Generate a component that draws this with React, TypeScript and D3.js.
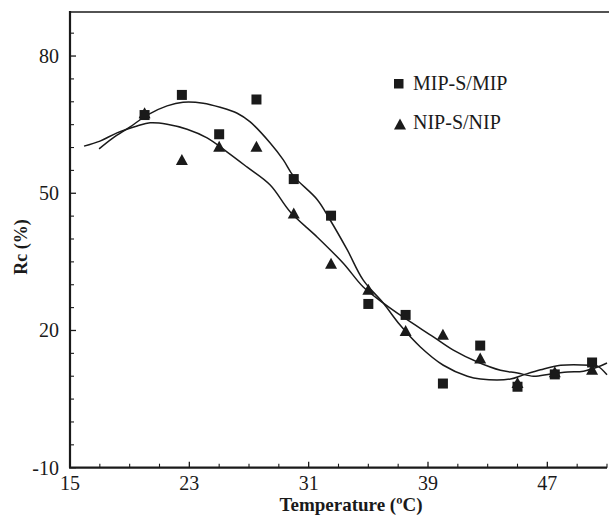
import * as d3 from "d3";

const temps = [20, 22.5, 25, 27.5, 30, 32.5, 35, 37.5, 40, 42.5, 45, 47.5, 50];
const mipValues = [67.1, 71.5, 62.9, 70.5, 53.1, 45.1, 25.8, 23.4, 8.4, 16.7, 7.7, 10.4, 13.0];
const nipValues = [67.6, 57.4, 60.3, 60.3, 45.7, 34.7, 29.0, 20.0, 19.2, 14.0, 8.6, 11.0, 11.5];

// fitted curves, traced point by point
const mipFitX = [16.95, 17.89, 19.03, 20.17, 21.51, 22.58, 23.93, 25.07, 26.21, 27.08, 28.42, 29.3, 29.97, 31.58, 32.45, 33.59, 34.66, 36.0, 37.1, 38.49, 40.03, 41.64, 42.52, 44.53, 45.4, 46.54, 47.89, 49.9, 50.37, 51.0];
const mipFitY = [59.7, 62.1, 64.5, 67.1, 69.1, 69.9, 69.7, 68.8, 67.5, 65.6, 61.0, 57.3, 53.8, 48.6, 44.1, 37.6, 31.0, 26.0, 21.3, 16.4, 12.4, 10.0, 9.4, 9.4, 10.3, 11.4, 12.4, 12.4, 12.2, 10.3];
const nipFitX = [15.94, 17.01, 18.15, 19.5, 20.37, 21.51, 22.85, 24.19, 25.54, 26.88, 28.42, 29.77, 31.58, 33.32, 34.66, 36.01, 37.35, 39.36, 40.7, 42.32, 43.86, 45.0, 46.07, 47.21, 48.36, 49.43, 50.37, 51.0];
const nipFitY = [60.3, 61.4, 63.2, 64.7, 65.4, 65.1, 64.0, 62.1, 59.0, 55.7, 51.8, 45.9, 40.4, 34.7, 29.5, 26.0, 22.9, 18.6, 15.7, 13.1, 11.3, 10.7, 10.0, 10.5, 10.9, 11.1, 12.0, 12.9];

const xMajor = [15, 23, 31, 39, 47];
const yMajor = [-10, 20, 50, 80];

const W = 609;
const H = 520;
const ink = "#1a1a1a";
const serif = "'Liberation Serif', 'Times New Roman', serif";

export default function App() {
  const x = d3.scaleLinear().domain([15, 51]).range([70, 607]);
  const y = d3.scaleLinear().domain([-10, 90]).range([467.7, 10.3]);
  const top = 12;

  const xMinor = d3.range(15, 51.1, 2).filter((v) => !xMajor.includes(v));
  const yMinor = d3.range(-10, 90, 5).filter((v) => !yMajor.includes(v));

  const line = d3
    .line<[number, number]>()
    .x((d) => x(d[0]))
    .y((d) => y(d[1]))
    .curve(d3.curveCatmullRom.alpha(0.5));

  const mipFit = mipFitX.map((v, i) => [v, mipFitY[i]] as [number, number]);
  const nipFit = nipFitX.map((v, i) => [v, nipFitY[i]] as [number, number]);

  // triangle centred on its bounding box
  const tri = (w: number, h: number) =>
    `M0,${-h / 2}L${w / 2},${h / 2}L${-w / 2},${h / 2}Z`;

  return (
    <svg
      width={W}
      height={H}
      style={{ position: "absolute", left: 0, top: 0, background: "#fff" }}
      fontFamily={serif}
    >
      {/* frame */}
      <line x1={x(15)} x2={W} y1={top} y2={top} stroke={ink} strokeWidth={1.4} />
      <line x1={x(15)} x2={x(15)} y1={top - 1} y2={y(-10)} stroke={ink} strokeWidth={2.2} />
      <line x1={x(15) - 1} x2={x(51)} y1={y(-10)} y2={y(-10)} stroke={ink} strokeWidth={2.2} />

      {/* y ticks */}
      {yMajor.map((v) => (
        <g key={"ym" + v}>
          <line x1={x(15)} x2={x(15) + 6} y1={y(v)} y2={y(v)} stroke={ink} strokeWidth={1.3} />
          <text x={59} y={y(v)} dy="0.35em" textAnchor="end" fontSize={20} fill={ink}>
            {v}
          </text>
        </g>
      ))}
      {yMinor.map((v) => (
        <line key={"yn" + v} x1={x(15)} x2={x(15) + 4} y1={y(v)} y2={y(v)} stroke={ink} strokeWidth={1.1} />
      ))}

      {/* x ticks */}
      {xMajor.map((v) => (
        <g key={"xm" + v}>
          <line x1={x(v)} x2={x(v)} y1={y(-10)} y2={y(-10) - 6} stroke={ink} strokeWidth={1.3} />
          <text x={x(v)} y={490} textAnchor="middle" fontSize={20} fill={ink}>
            {v}
          </text>
        </g>
      ))}
      {xMinor.map((v) => (
        <line key={"xn" + v} x1={x(v)} x2={x(v)} y1={y(-10)} y2={y(-10) - 4} stroke={ink} strokeWidth={1.1} />
      ))}

      {/* axis titles */}
      <text x={351} y={511} textAnchor="middle" fontSize={19} fontWeight="bold" fill={ink}>
        Temperature (ºC)
      </text>
      <text
        transform="translate(27,247) rotate(-90)"
        textAnchor="middle"
        fontSize={18}
        fontWeight="bold"
        fill={ink}
      >
        Rc (%)
      </text>

      {/* fitted curves */}
      <path d={line(mipFit) ?? ""} fill="none" stroke={ink} strokeWidth={1.5} />
      <path d={line(nipFit) ?? ""} fill="none" stroke={ink} strokeWidth={1.5} />

      {/* points */}
      {temps.map((t, i) => (
        <rect key={"s" + i} x={x(t) - 5} y={y(mipValues[i]) - 5} width={10} height={10} fill={ink} />
      ))}
      {temps.map((t, i) => (
        <path key={"t" + i} d={tri(12, 11)} transform={`translate(${x(t)},${y(nipValues[i])})`} fill={ink} />
      ))}

      {/* legend */}
      <rect x={394} y={79} width={9.5} height={9.5} fill={ink} />
      <text x={413} y={90} fontSize={20} fill={ink}>
        MIP-S/MIP
      </text>
      <path d={tri(12, 11)} transform="translate(400,124)" fill={ink} />
      <text x={413} y={129} fontSize={20} fill={ink}>
        NIP-S/NIP
      </text>
    </svg>
  );
}
